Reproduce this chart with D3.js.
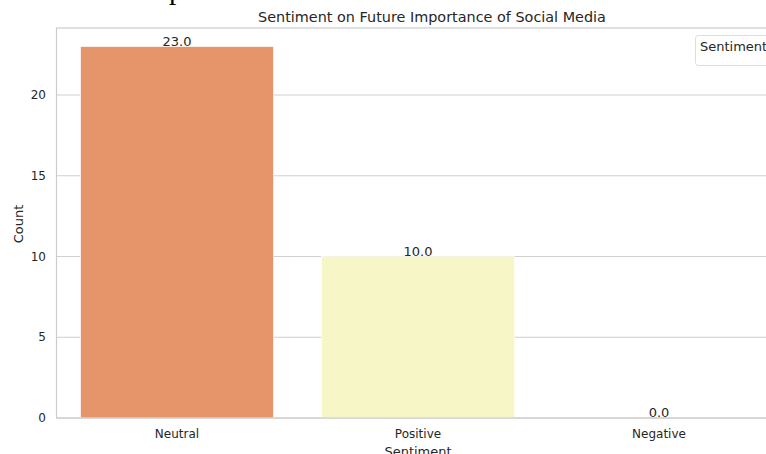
<!DOCTYPE html>
<html><head><meta charset="utf-8">
<script src="https://cdn.jsdelivr.net/npm/d3@7"></script>
<style>body{margin:0;background:#fff;overflow:hidden}svg{display:block}</style>
</head><body>
<svg id="c" width="766" height="454"></svg>
<script>
const categories = ["Neutral", "Positive", "Negative"];
const counts = [23, 10, 0];
const colors = ["#e6956a", "#f7f6c6", "#fde0a0"];
const yTicks = [0, 5, 10, 15, 20];

(function () {
const svg = d3.select("#c");
const pL = 56.5, pR = 779.5, pT = 28, pB = 418;
const x = d3.scaleBand().domain(categories).range([pL, pR]).paddingInner(0.2).paddingOuter(0.1);
const y = d3.scaleLinear().domain([0, 24.15]).range([pB, pT]);
const font = "'DejaVu Sans', sans-serif";
const txt = "#262626";

// cut-off caption text at the top
svg.append("text").attr("x", 236).attr("y", -1.5).attr("text-anchor", "end")
  .attr("font-family", "'Liberation Serif', 'DejaVu Serif', serif").attr("font-size", 29)
  .attr("fill", "#000").text("social media posts.");

// grid
svg.append("g").selectAll("line").data(yTicks).join("line")
  .attr("x1", pL).attr("x2", pR).attr("y1", d => y(d)).attr("y2", d => y(d))
  .attr("stroke", "#d0d0d0").attr("stroke-width", 1);

// bars
svg.append("g").selectAll("rect").data(categories).join("rect")
  .attr("x", d => x(d)).attr("width", x.bandwidth())
  .attr("y", (d, i) => y(counts[i])).attr("height", (d, i) => y(0) - y(counts[i]))
  .attr("fill", (d, i) => colors[i]).attr("stroke", "#fff").attr("stroke-width", 0.6);

// spines
svg.append("rect").attr("x", pL).attr("y", pT).attr("width", pR - pL).attr("height", pB - pT)
  .attr("fill", "none").attr("stroke", "#cccccc").attr("stroke-width", 1.2);

// value labels
svg.append("g").selectAll("text").data(categories).join("text")
  .attr("x", d => x(d) + x.bandwidth() / 2).attr("y", (d, i) => y(counts[i]) - 1)
  .attr("text-anchor", "middle").attr("font-family", font).attr("font-size", 13).attr("fill", txt)
  .text((d, i) => counts[i].toFixed(1));

// y tick labels
svg.append("g").selectAll("text").data(yTicks).join("text")
  .attr("x", 46).attr("y", d => y(d)).attr("dy", "0.35em").attr("text-anchor", "end")
  .attr("font-family", font).attr("font-size", 12).attr("fill", txt).text(d => d);

// x tick labels
svg.append("g").selectAll("text").data(categories).join("text")
  .attr("x", d => x(d) + x.bandwidth() / 2).attr("y", 438).attr("text-anchor", "middle")
  .attr("font-family", font).attr("font-size", 12).attr("fill", txt).text(d => d);

// axis titles
svg.append("text").attr("x", 418).attr("y", 456).attr("text-anchor", "middle")
  .attr("font-family", font).attr("font-size", 13).attr("fill", txt).text("Sentiment");
svg.append("text").attr("transform", "translate(23,224) rotate(-90)").attr("text-anchor", "middle")
  .attr("font-family", font).attr("font-size", 13).attr("fill", txt).text("Count");

// title
svg.append("text").attr("x", 432).attr("y", 22).attr("text-anchor", "middle")
  .attr("font-family", font).attr("font-size", 14.4).attr("fill", txt)
  .text("Sentiment on Future Importance of Social Media");

// legend box
svg.append("rect").attr("x", 695.5).attr("y", 35.5).attr("width", 100).attr("height", 30).attr("rx", 3)
  .attr("fill", "#fff").attr("stroke", "#dddddd");
svg.append("text").attr("x", 700).attr("y", 51).attr("font-family", font).attr("font-size", 13)
  .attr("fill", txt).text("Sentiment");
})();
</script>
</body></html>
